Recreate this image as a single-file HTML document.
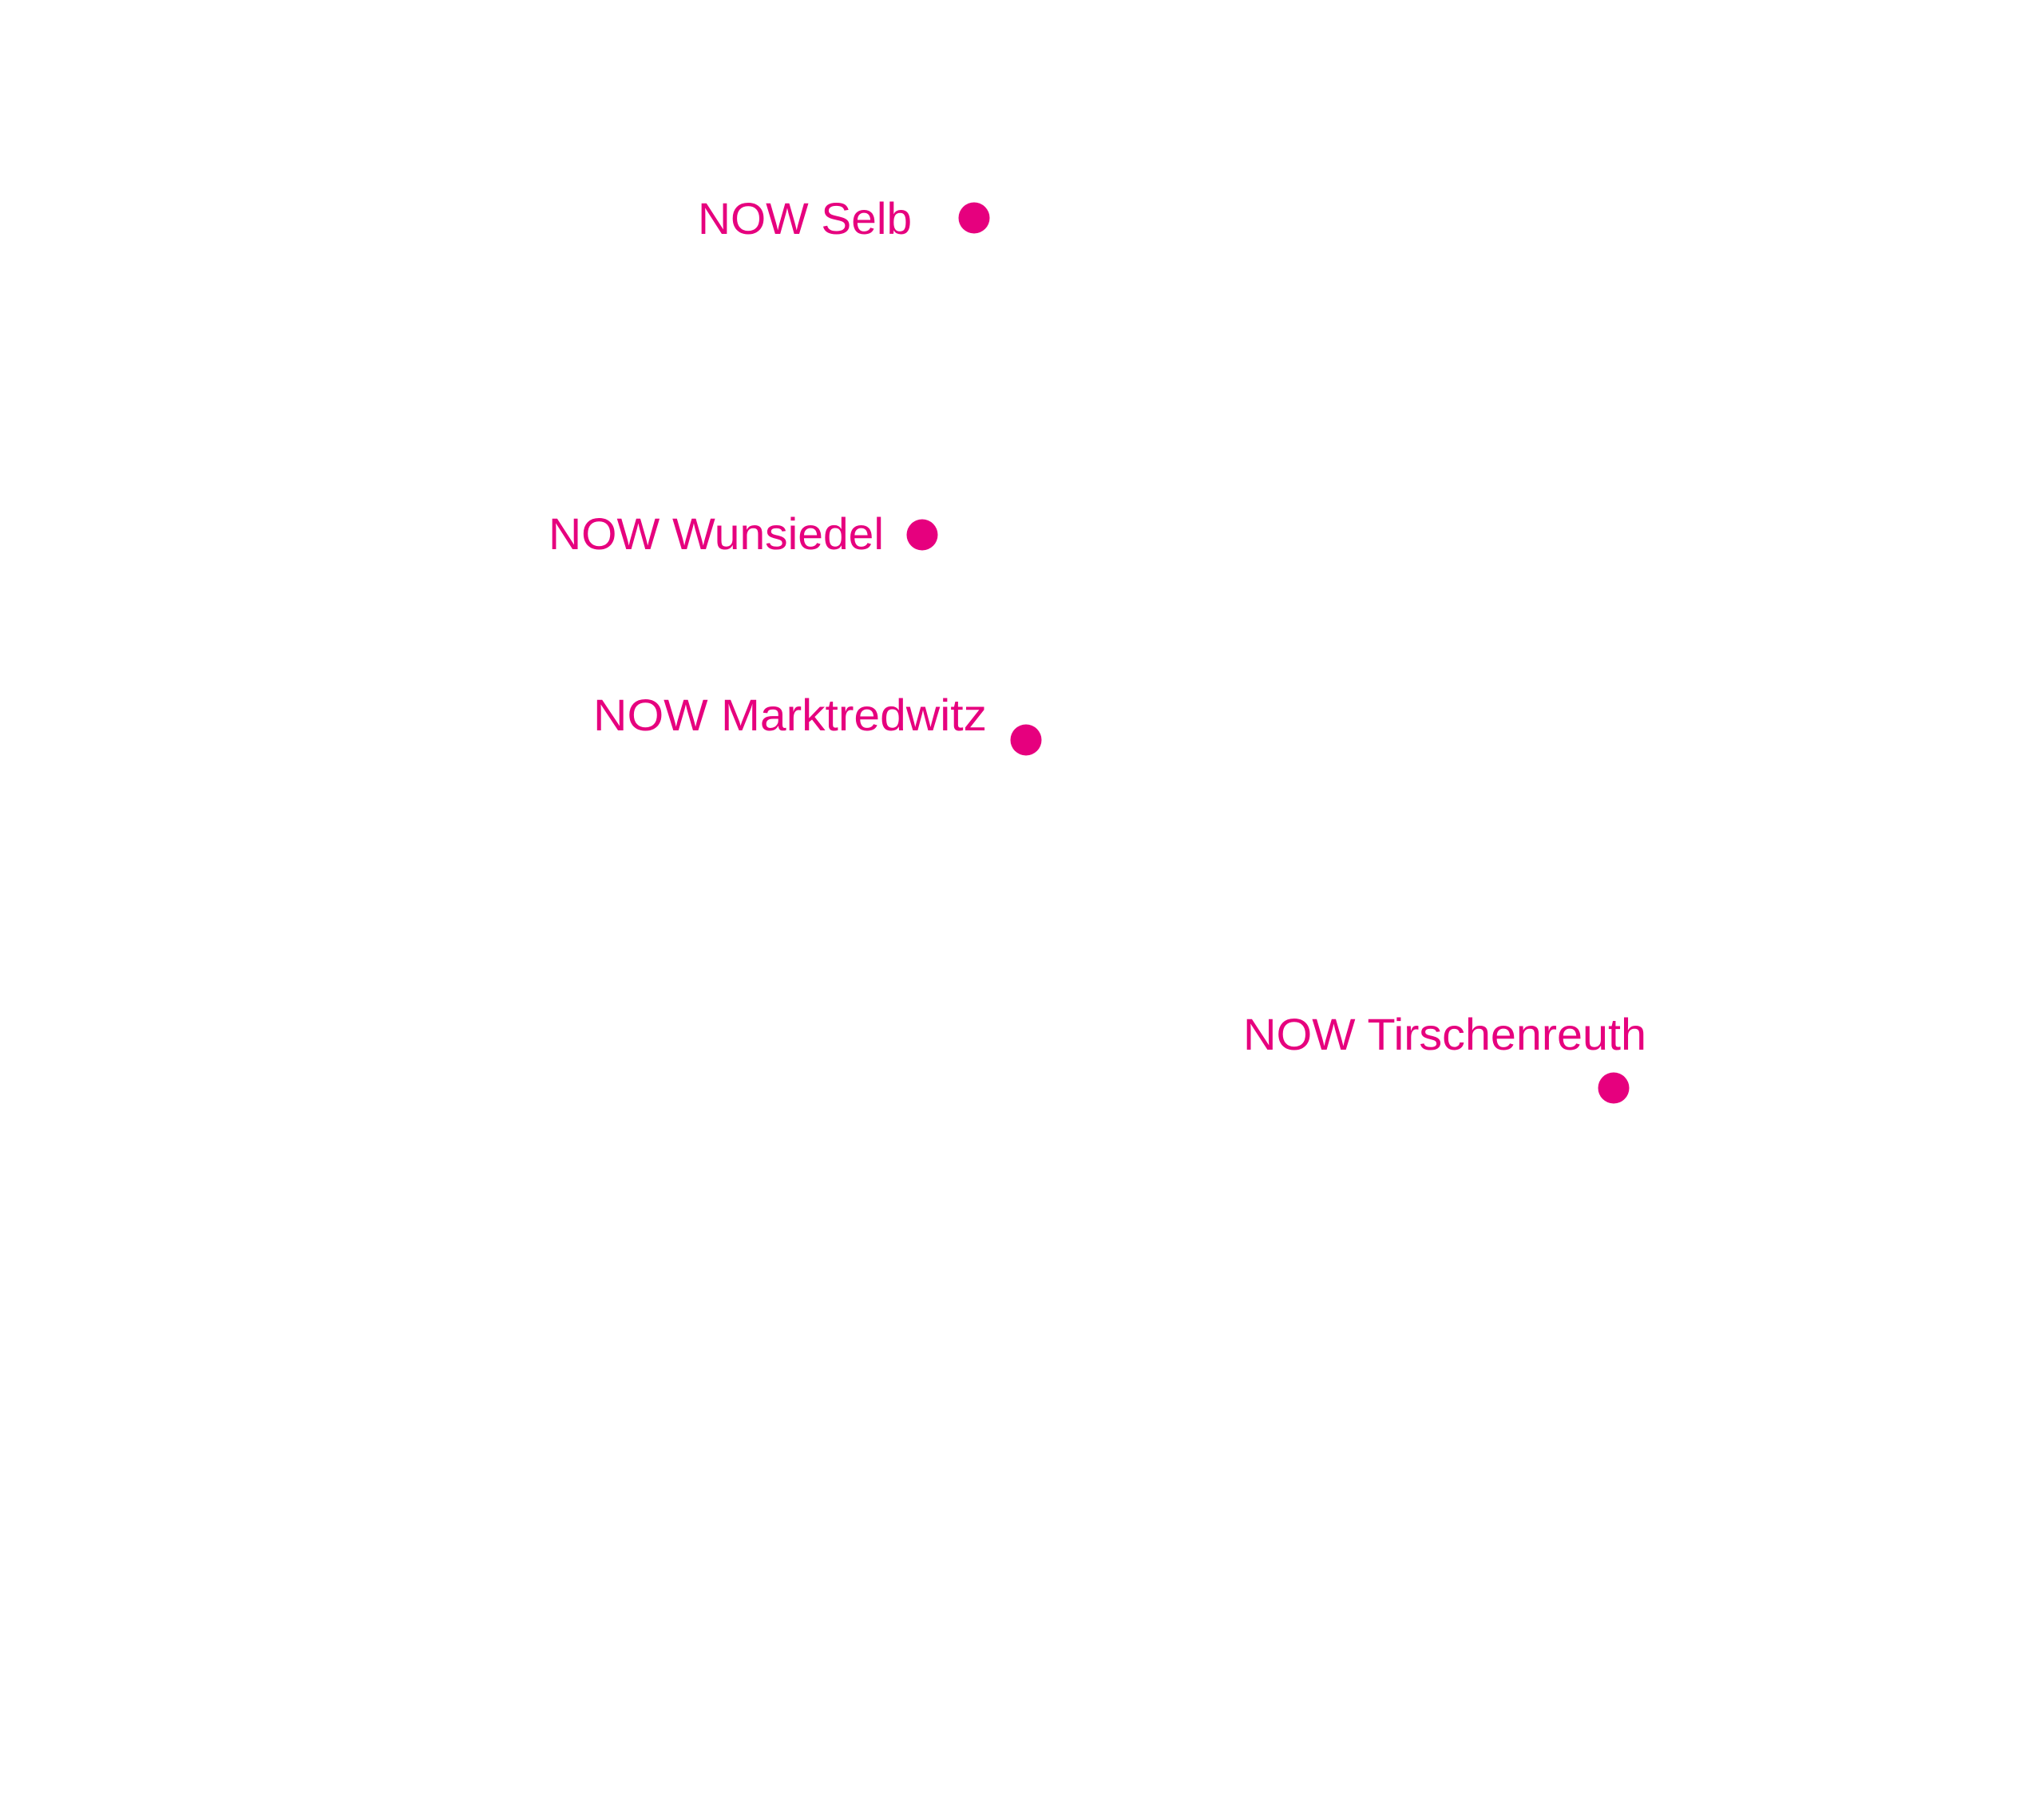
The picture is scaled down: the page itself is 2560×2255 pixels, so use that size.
<!DOCTYPE html>
<html><head><meta charset="utf-8"><style>
html,body{margin:0;padding:0;background:#fff;}
svg{display:block}
text{font-family:"Liberation Sans",Arial,sans-serif;fill:#E6007E;font-size:56px;}
</style></head><body>
<svg width="2560" height="2255" viewBox="0 0 2560 2255" xmlns="http://www.w3.org/2000/svg">
<rect width="2560" height="2255" fill="#fff"/>
<text x="874" y="293" textLength="268" lengthAdjust="spacingAndGlyphs">NOW Selb</text>
<circle cx="1220" cy="273" r="19.5" fill="#E6007E"/>
<text x="687" y="688" textLength="420" lengthAdjust="spacingAndGlyphs">NOW Wunsiedel</text>
<circle cx="1155" cy="670" r="19.5" fill="#E6007E"/>
<text x="743" y="915" textLength="493" lengthAdjust="spacingAndGlyphs">NOW Marktredwitz</text>
<circle cx="1285" cy="927" r="19.5" fill="#E6007E"/>
<text x="1557" y="1315" textLength="505" lengthAdjust="spacingAndGlyphs">NOW Tirschenreuth</text>
<circle cx="2021" cy="1363" r="19.5" fill="#E6007E"/>
</svg>
</body></html>
